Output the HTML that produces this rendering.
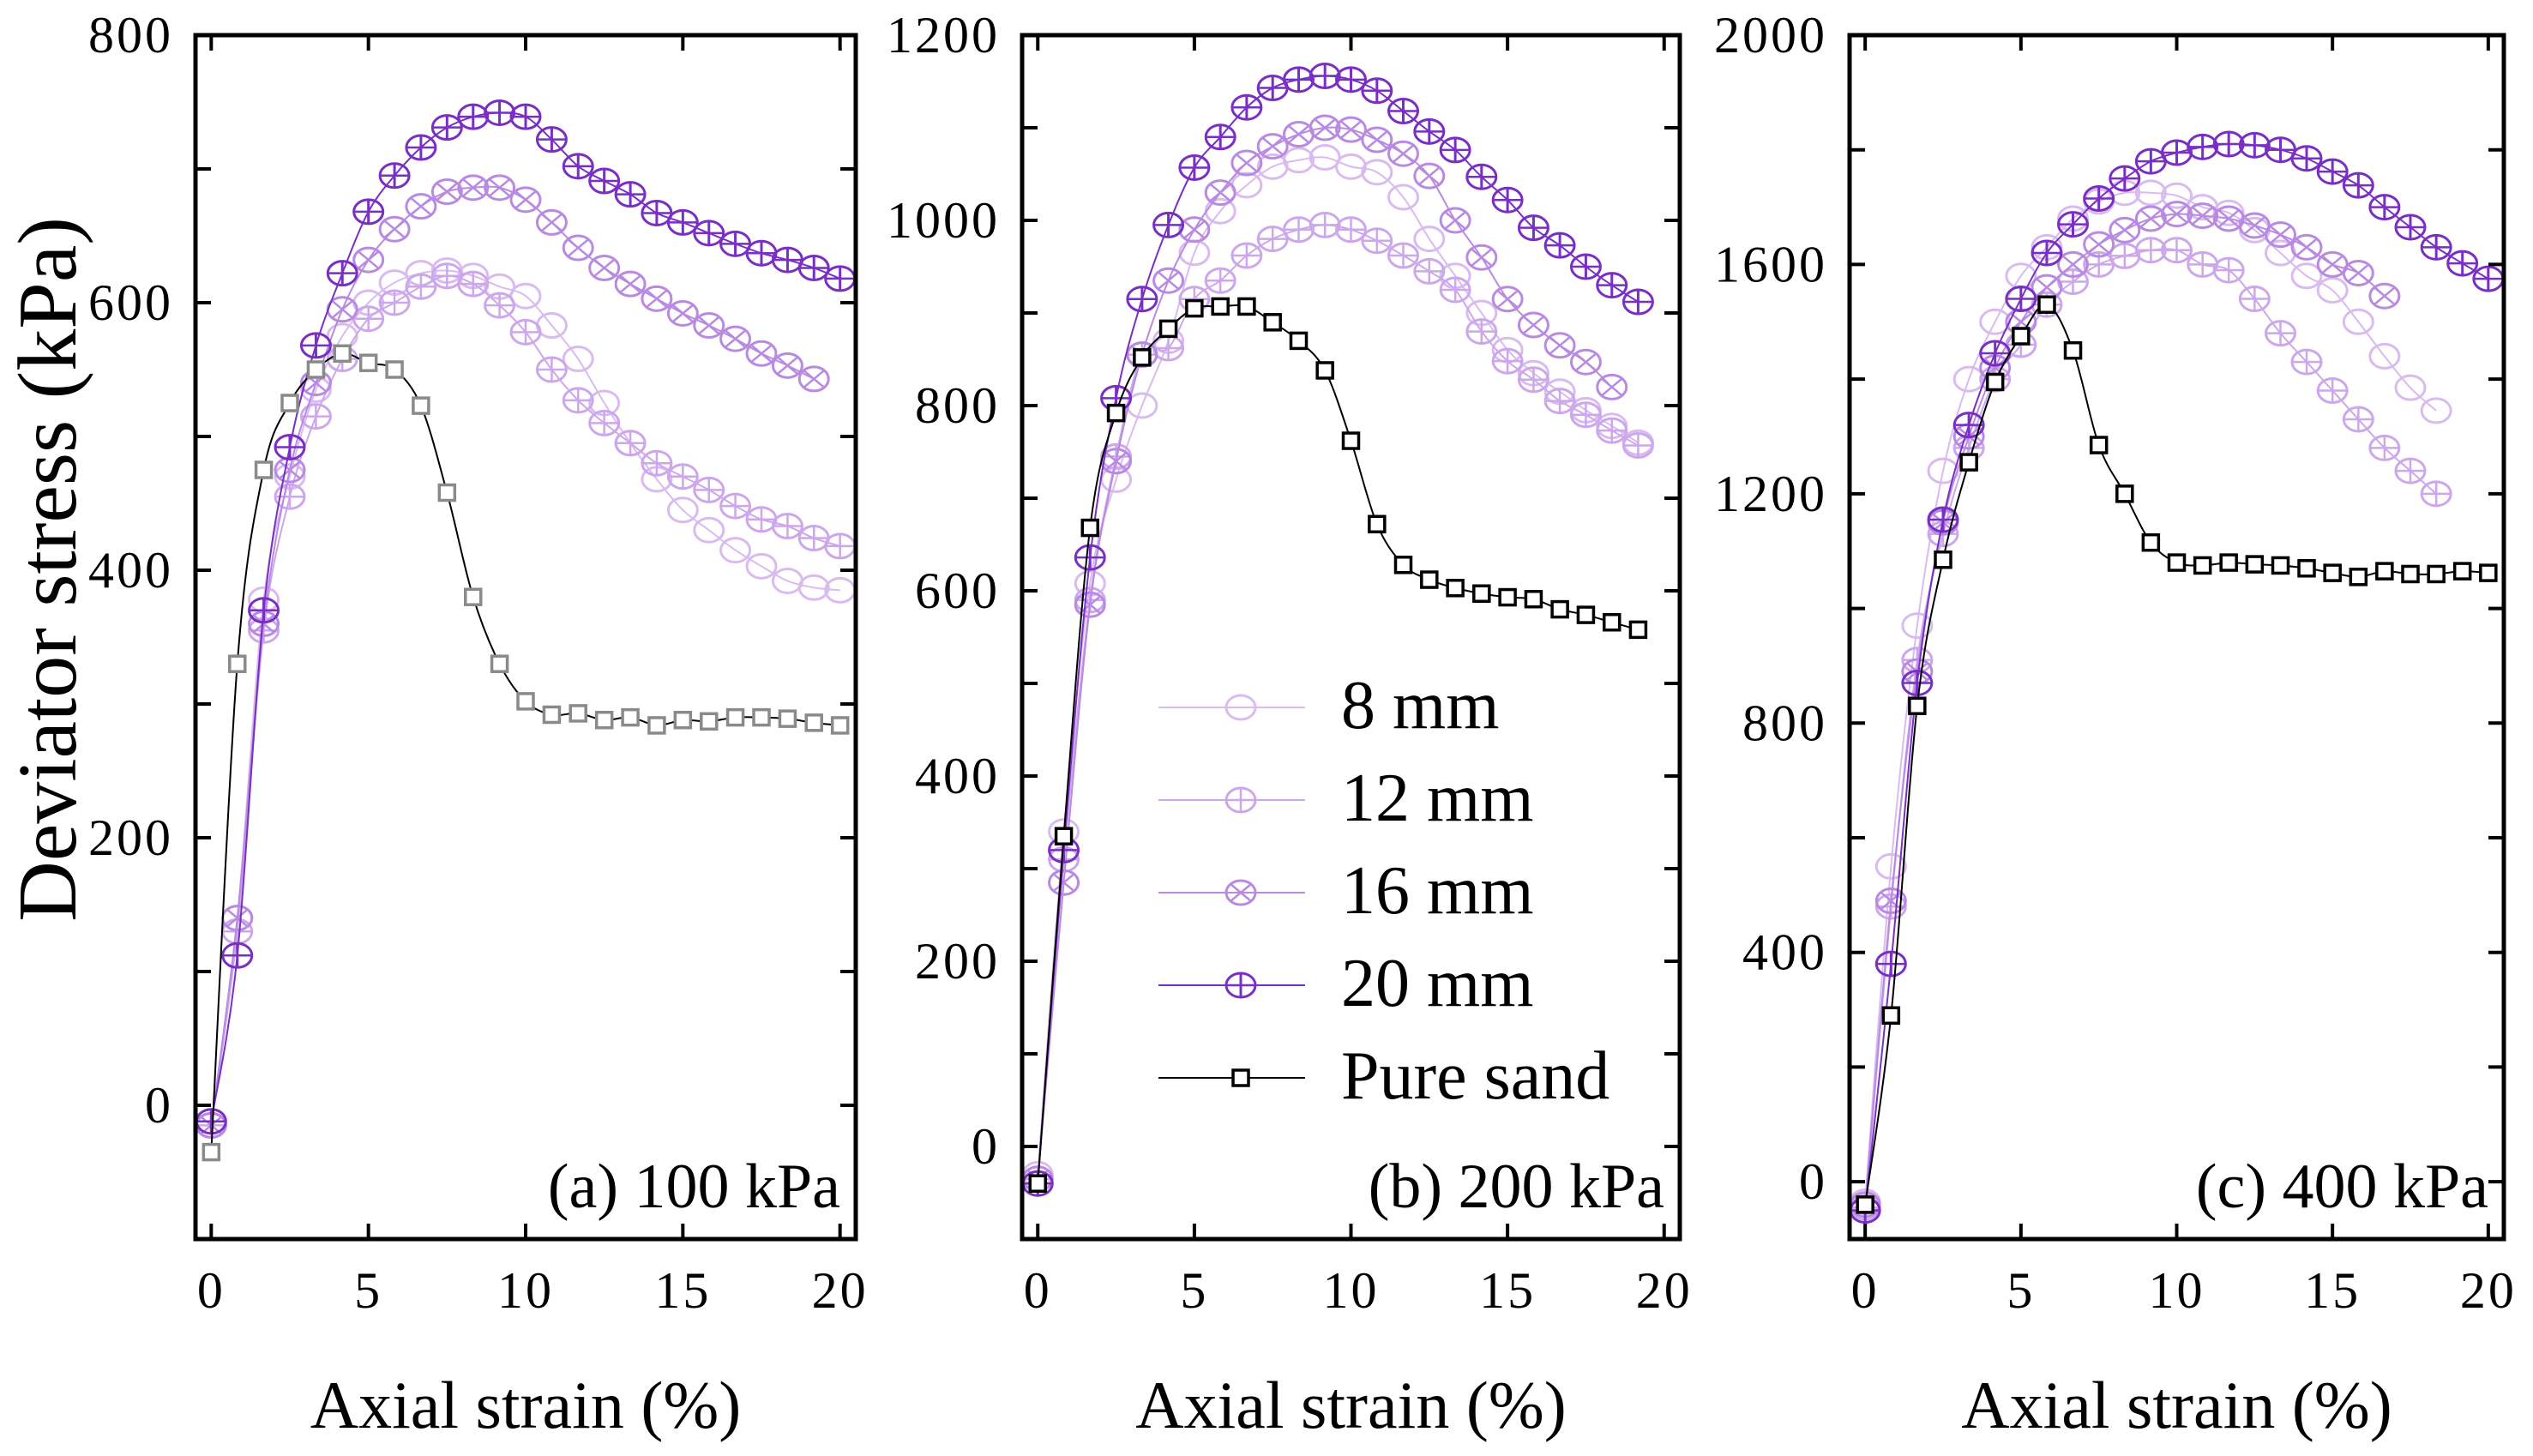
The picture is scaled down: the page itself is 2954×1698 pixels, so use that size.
<!DOCTYPE html>
<html><head><meta charset="utf-8"><style>
body{margin:0;background:#fff}
svg{display:block}
text{font-family:"Liberation Serif",serif;fill:#000}
</style></head><body>
<svg id="chart" width="2954" height="1698" viewBox="0 0 2954 1698" xmlns="http://www.w3.org/2000/svg">
<text x="0" y="0" font-size="98" text-anchor="middle" transform="translate(88,664) rotate(-90)">Deviator stress (kPa)</text>
</svg>
<script>
const strain = [0,0.83,1.67,2.5,3.33,4.17,5,5.83,6.67,7.5,8.33,9.17,10,10.83,11.67,12.5,13.33,14.17,15,15.83,16.67,17.5,18.33,19.17,20];
// Panel a (100 kPa)
const a_sand = [-35,330,475,525,550,562,555,550,523,458,380,330,302,292,293,288,290,284,288,287,290,290,289,286,284];
const a_20 = [-12,112,370,492,568,622,668,695,716,731,739,742,739,722,702,691,681,667,660,652,644,637,632,626,618];
const a_16 = [-15,140,360,475,540,595,632,655,672,683,686,686,677,660,641,626,614,603,592,583,573,562,553,543];
const a_12 = [-15,130,355,455,515,558,588,600,612,620,614,598,578,550,527,510,495,480,470,460,448,438,433,424,418];
const a_8 = [-15,140,378,470,535,575,600,615,622,624,620,612,605,583,558,525,495,468,445,430,415,403,392,387,385];
// Panel b (200 kPa)
const b_sand = [-40,335,668,792,852,883,905,907,907,890,870,838,762,672,628,612,603,597,593,591,580,574,566,558];
const b_20 = [-40,320,636,808,915,995,1057,1090,1122,1143,1152,1156,1152,1140,1118,1096,1076,1047,1022,992,973,950,930,912];
const b_16 = [-35,285,585,740,855,935,990,1030,1062,1080,1093,1100,1098,1087,1072,1048,1000,960,915,887,865,847,820];
const b_12 = [-35,310,590,745,855,862,915,935,962,980,990,995,990,978,962,945,925,880,848,828,805,790,773,757];
const b_8 = [-30,340,608,720,800,870,965,1010,1038,1058,1065,1068,1058,1052,1025,980,940,900,860,835,815,795,778,760];
// Panel c (400 kPa)
const c_sand = [-40,290,830,1085,1255,1395,1475,1530,1450,1285,1200,1115,1080,1075,1080,1077,1075,1070,1062,1055,1065,1060,1060,1065,1062];
const c_20 = [-50,380,870,1155,1320,1445,1540,1620,1670,1715,1750,1780,1795,1805,1810,1808,1800,1785,1762,1738,1700,1665,1630,1602,1575];
const c_16 = [-40,490,890,1150,1300,1420,1500,1560,1600,1635,1660,1680,1688,1685,1680,1668,1652,1630,1600,1585,1545];
const c_12 = [-45,480,910,1130,1280,1400,1460,1530,1570,1600,1615,1625,1625,1600,1590,1540,1480,1430,1380,1330,1280,1240,1200];
const c_8 = [-35,550,970,1240,1400,1500,1580,1630,1680,1710,1725,1725,1720,1700,1690,1660,1620,1580,1555,1500,1440,1385,1345];
const xTicks = [0,5,10,15,20];
const panelTitles = ["(a) 100 kPa","(b) 200 kPa","(c) 400 kPa"];
const legendLabels = ["8 mm","12 mm","16 mm","20 mm","Pure sand"];

const NS="http://www.w3.org/2000/svg";
const svg=document.getElementById('chart');
function mk(tag,attrs,parent){const e=document.createElementNS(NS,tag);for(const k in attrs)e.setAttribute(k,attrs[k]);(parent||svg).appendChild(e);return e;}

const styles={
 s8:{color:'#d9bbf0',type:'circle'},
 s12:{color:'#cda7ec',type:'plus'},
 s16:{color:'#b88ae2',type:'cross'},
 s20:{color:'#7a2fc4',type:'vbar'},
};

const panels=[
 {L:228,R:998,ymin:-100,ymax:800,yLab:[0,200,400,600,800],yTick:100,sand:a_sand,sandMk:'#8a8a8a',series:[a_8,a_12,a_16,a_20],name:'a'},
 {L:1192,R:1959,ymin:-100,ymax:1200,yLab:[0,200,400,600,800,1000,1200],yTick:100,sand:b_sand,sandMk:'#000',series:[b_8,b_12,b_16,b_20],name:'b'},
 {L:2157,R:2920,ymin:-100,ymax:2000,yLab:[0,400,800,1200,1600,2000],yTick:200,sand:c_sand,sandMk:'#000',series:[c_8,c_12,c_16,c_20],name:'c'},
];
const T=41,B=1445;

function smoothPath(pts){
 let d=`M${pts[0][0]},${pts[0][1]}`;
 for(let i=0;i<pts.length-1;i++){
  const p0=pts[i-1]||pts[i],p1=pts[i],p2=pts[i+1],p3=pts[i+2]||p2;
  const c1=[p1[0]+(p2[0]-p0[0])/6,p1[1]+(p2[1]-p0[1])/6];
  const c2=[p2[0]-(p3[0]-p1[0])/6,p2[1]-(p3[1]-p1[1])/6];
  d+=` C${c1[0]},${c1[1]} ${c2[0]},${c2[1]} ${p2[0]},${p2[1]}`;
 }
 return d;
}
function marker(g,type,x,y,color){
 if(type==='square'){mk('rect',{x:x-9,y:y-9,width:18,height:18,fill:'#fff',stroke:color,'stroke-width':3.5},g);return;}
 mk('ellipse',{cx:x,cy:y,rx:17,ry:14,fill:'none',stroke:color,'stroke-width':3},g);
 if(type==='plus'){mk('line',{x1:x-17,y1:y,x2:x+17,y2:y,stroke:color,'stroke-width':2.5},g);mk('line',{x1:x,y1:y-14,x2:x,y2:y+14,stroke:color,'stroke-width':2.5},g);}
 if(type==='cross'){mk('line',{x1:x-12,y1:y-10,x2:x+12,y2:y+10,stroke:color,'stroke-width':2.5},g);mk('line',{x1:x-12,y1:y+10,x2:x+12,y2:y-10,stroke:color,'stroke-width':2.5},g);}
 if(type==='vbar'){mk('line',{x1:x-17,y1:y,x2:x+17,y2:y,stroke:color,'stroke-width':2.5},g);mk('line',{x1:x,y1:y-14,x2:x,y2:y+14,stroke:color,'stroke-width':3},g);}
}

panels.forEach((p,pi)=>{
 const xs=v=>p.L+(v+0.5)/21*(p.R-p.L);
 const ys=v=>B-(v-p.ymin)/(p.ymax-p.ymin)*(B-T);
 const g=mk('g',{});
 
 
 const keys=['s8','s12','s16','s20'];
 p.series.forEach((arr,si)=>{
  const st=styles[keys[si]];
  const sg=mk('g',{},g);
  
  
  const pts=arr.map((v,i)=>[xs(strain[i]),ys(v)]);
  mk('path',{d:smoothPath(pts),fill:'none',stroke:st.color,'stroke-width':2},sg);
  pts.forEach(q=>marker(sg,st.type,q[0],q[1],st.color));
 });
 const sg=mk('g',{},g);
 
 
 const pts=p.sand.map((v,i)=>[xs(strain[i]),ys(v)]);
 mk('path',{d:smoothPath(pts),fill:'none',stroke:'#000','stroke-width':2},sg);
 pts.forEach(q=>marker(sg,'square',q[0],q[1],p.sandMk));
 const ax=mk('rect',{x:p.L,y:T,width:p.R-p.L,height:B-T,fill:'none',stroke:'#000','stroke-width':5},g);
 
 
 for(let v=p.ymin+ (p.yTick-((p.ymin%p.yTick)+p.yTick)%p.yTick); v<=p.ymax; v+=p.yTick){
  const y=ys(v);
  mk('line',{x1:p.L,y1:y,x2:p.L+18,y2:y,stroke:'#000','stroke-width':4},g);
  mk('line',{x1:p.R,y1:y,x2:p.R-18,y2:y,stroke:'#000','stroke-width':4},g);
 }
 p.yLab.forEach(v=>{
  const t=mk('text',{x:p.L-26,y:ys(v)+20,'font-size':60,'letter-spacing':3,'text-anchor':'end'},g);
  t.textContent=v;
  
  
 });
 xTicks.forEach(v=>{
  const x=xs(v);
  mk('line',{x1:x,y1:B,x2:x,y2:B-18,stroke:'#000','stroke-width':4},g);
  mk('line',{x1:x,y1:T,x2:x,y2:T+18,stroke:'#000','stroke-width':4},g);
  const t=mk('text',{x:x,y:1525,'font-size':60,'letter-spacing':3,'text-anchor':'middle'},g);
  t.textContent=v;
  
  
 });
 const xt=mk('text',{x:(p.L+p.R)/2,y:1665,'font-size':78,'text-anchor':'middle'},g);
 xt.textContent='Axial strain (%)';
 
 
 const pt=mk('text',{x:p.R-18,y:1408,'font-size':74,'text-anchor':'end'},g);
 pt.textContent=panelTitles[pi];
 
 
});

const lg=mk('g',{});


const lKeys=['s8','s12','s16','s20','sand'];
legendLabels.forEach((lab,i)=>{
 const y=825+i*108;
 const e=mk('g',{},lg);
 
 
 const st=lKeys[i]==='sand'?{color:'#000',type:'square'}:styles[lKeys[i]];
 mk('line',{x1:1351,y1:y,x2:1522,y2:y,stroke:st.color,'stroke-width':2},e);
 marker(e,st.type,1447,y,st.color);
 const t=mk('text',{x:1564,y:y+24,'font-size':80},e);
 t.textContent=lab;
});
</script>
</body></html>
